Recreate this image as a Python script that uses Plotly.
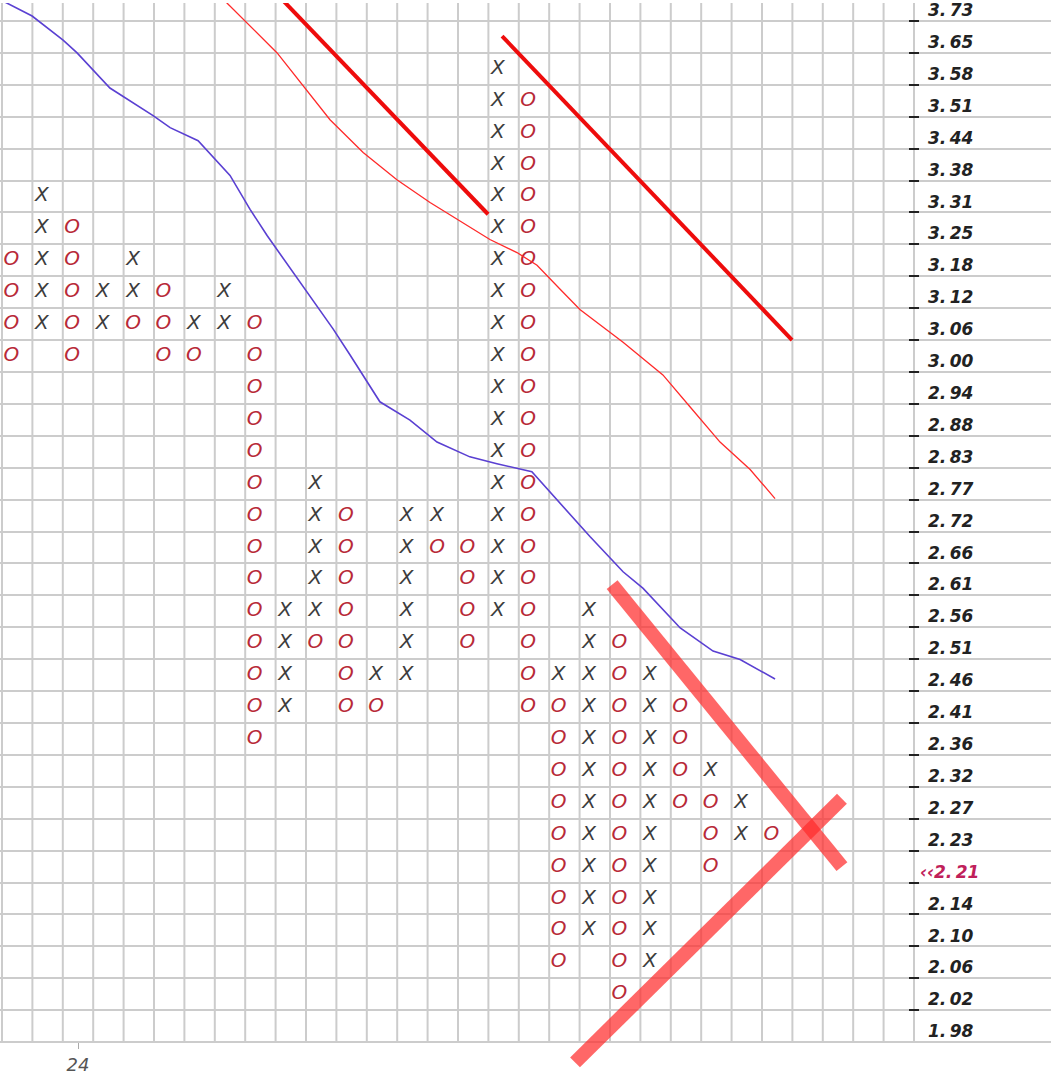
import numpy as np
import plotly.graph_objects as go

# ---------------- data ----------------
PRICE_LABELS = ["3.73", "3.65", "3.58", "3.51", "3.44", "3.38", "3.31", "3.25", "3.18",
                "3.12", "3.06", "3.00", "2.94", "2.88", "2.83", "2.77", "2.72", "2.66",
                "2.61", "2.56", "2.51", "2.46", "2.41", "2.36", "2.32", "2.27", "2.23",
                "2.19", "2.14", "2.10", "2.06", "2.02", "1.98"]
LAST_PRICE = "2.21"          # current price marker, shown on the 2.19 row
LAST_PRICE_ROW = "2.19"
DATE_TICK_COL = [2]
DATE_TICK_TEXT = ["24"]

# point & figure columns: list of (type, top level, bottom level) per column
PNF_COLUMNS = [
    [("O", "3.18", "3.00")],
    [("X", "3.31", "3.06")],
    [("O", "3.25", "3.00")],
    [("X", "3.12", "3.06")],
    [("X", "3.18", "3.12"), ("O", "3.06", "3.06")],
    [("O", "3.12", "3.00")],
    [("X", "3.06", "3.06"), ("O", "3.00", "3.00")],
    [("X", "3.12", "3.06")],
    [("O", "3.06", "2.36")],
    [("X", "2.56", "2.41")],
    [("X", "2.77", "2.56"), ("O", "2.51", "2.51")],
    [("O", "2.72", "2.41")],
    [("X", "2.46", "2.46"), ("O", "2.41", "2.41")],
    [("X", "2.72", "2.46")],
    [("X", "2.72", "2.72"), ("O", "2.66", "2.66")],
    [("O", "2.66", "2.51")],
    [("X", "3.58", "2.56")],
    [("O", "3.51", "2.41")],
    [("X", "2.46", "2.46"), ("O", "2.41", "2.06")],
    [("X", "2.56", "2.10")],
    [("O", "2.51", "2.02")],
    [("X", "2.46", "2.06")],
    [("O", "2.41", "2.27")],
    [("X", "2.32", "2.32"), ("O", "2.27", "2.19")],
    [("X", "2.27", "2.23")],
    [("O", "2.23", "2.23")],
]

# moving averages (column position, price)
MA_BLUE_X = [-0.73, 0.49, 1.51, 1.97, 3.05, 4.47, 5.03, 5.95, 7.00, 7.66, 8.22, 9.30,
             10.39, 10.95, 11.93, 12.92, 13.81, 14.89, 15.78, 16.93, 17.86, 18.84,
             19.93, 20.59, 21.81, 22.89, 23.78, 24.93]
MA_BLUE_PRICE = [3.750, 3.706, 3.651, 3.622, 3.544, 3.484, 3.458, 3.430, 3.357, 3.287,
                 3.234, 3.142, 3.052, 3.003, 2.917, 2.884, 2.845, 2.819, 2.807, 2.793,
                 2.738, 2.683, 2.625, 2.598, 2.535, 2.499, 2.486, 2.456]
MA_RED_X = [6.51, 6.90, 8.55, 10.29, 11.38, 12.49, 13.58, 14.66, 15.55, 16.44, 17.10,
            17.86, 18.51, 19.93, 21.24, 22.13, 23.12, 24.11, 24.93]
MA_RED_PRICE = [3.771, 3.736, 3.622, 3.475, 3.405, 3.348, 3.301, 3.260, 3.226, 3.200,
                3.175, 3.128, 3.089, 3.027, 2.966, 2.908, 2.845, 2.797, 2.747]

# trend lines (column position, price)
TREND1_X = [8.31, 15.49]
TREND1_PRICE = [3.774, 3.277]
TREND2_X = [15.95, 25.49]
TREND2_PRICE = [3.660, 3.031]
WEDGE_DOWN_X = [19.57, 27.13]
WEDGE_DOWN_PRICE = [2.604, 2.186]
WEDGE_UP_X = [18.35, 27.13]
WEDGE_UP_PRICE = [1.936, 2.280]

BASE_PRICE = 1.98
BOX_RATIO = 1.02
N_GRID_COLS = 30

# ---------------- helpers ----------------
N = len(PRICE_LABELS)


def row_of(label):
    return N - 1 - PRICE_LABELS.index(label)


def box_of(prices):
    return list(np.log(np.asarray(prices) / BASE_PRICE) / np.log(BOX_RATIO))


def label_fmt(s):
    a, b = s.split(".")
    return a + ".\u2009" + b


MARK_DX = -0.19
xs = {"X": [], "O": []}
ys = {"X": [], "O": []}
for c, segs in enumerate(PNF_COLUMNS):
    for kind, top, bot in segs:
        for r in range(row_of(bot), row_of(top) + 1):
            xs[kind].append(c + MARK_DX)
            ys[kind].append(r)

W, H = 1051, 1091
BOTTOM_PAD = 49
ROW_PX = 32.0
XR = [-0.5658, 34.007]
YR = [-0.5 - BOTTOM_PAD / ROW_PX, 32.0625]

fig = go.Figure()

mark_font = dict(family="DejaVu Sans", size=20, style="italic")
fig.add_trace(go.Scatter(x=xs["X"], y=ys["X"], mode="text", text=["X"] * len(xs["X"]),
                         textposition="middle center",
                         textfont=dict(mark_font, color="#3c3c3c"),
                         hoverinfo="skip", showlegend=False))
fig.add_trace(go.Scatter(x=xs["O"], y=ys["O"], mode="text", text=["O"] * len(xs["O"]),
                         textposition="middle center",
                         textfont=dict(mark_font, color="#b82a38"),
                         hoverinfo="skip", showlegend=False))

fig.add_trace(go.Scatter(x=MA_BLUE_X, y=box_of(MA_BLUE_PRICE), mode="lines",
                         line=dict(color="#5a40d2", width=1.6), hoverinfo="skip",
                         showlegend=False))
fig.add_trace(go.Scatter(x=MA_RED_X, y=box_of(MA_RED_PRICE), mode="lines",
                         line=dict(color="#ff2a2a", width=1.3), hoverinfo="skip",
                         showlegend=False))
for tx, tp in [(TREND1_X, TREND1_PRICE), (TREND2_X, TREND2_PRICE)]:
    fig.add_trace(go.Scatter(x=tx, y=box_of(tp), mode="lines",
                             line=dict(color="#ee0c0c", width=4), hoverinfo="skip",
                             showlegend=False))
for tx, tp in [(WEDGE_DOWN_X, WEDGE_DOWN_PRICE), (WEDGE_UP_X, WEDGE_UP_PRICE)]:
    fig.add_trace(go.Scatter(x=tx, y=box_of(tp), mode="lines",
                             line=dict(color="rgba(255,45,45,0.72)", width=14),
                             hoverinfo="skip", showlegend=False))
# carriers for the price scale axes
fig.add_trace(go.Scatter(x=[None], y=[None], yaxis="y3", showlegend=False, hoverinfo="skip"))
fig.add_trace(go.Scatter(x=[None], y=[None], yaxis="y4", showlegend=False, hoverinfo="skip"))

label_rows = [row_of(l) for l in PRICE_LABELS if l != LAST_PRICE_ROW]
label_text = [label_fmt(l) for l in PRICE_LABELS if l != LAST_PRICE_ROW]
LABEL_DY = -0.16
GRID = "#cccccc"
label_font = dict(family="DejaVu Sans", size=17, color="#222222", style="italic",
                  weight="bold")

# vertical grid lines of the box grid (column boundaries), limited to the price rows
grid_shapes = [dict(type="line", layer="below", xref="x", yref="y",
                    x0=j - 0.5, x1=j - 0.5, y0=-0.5, y1=YR[1],
                    line=dict(color=GRID, width=2))
               for j in range(N_GRID_COLS + 1)]

fig.update_layout(
    width=W, height=H,
    margin=dict(l=0, r=0, t=0, b=0),
    paper_bgcolor="white",
    plot_bgcolor="white",
    showlegend=False,
    xaxis=dict(domain=[0, 1], range=XR, anchor="free", position=BOTTOM_PAD / H,
               tickmode="array", tickvals=DATE_TICK_COL, ticktext=DATE_TICK_TEXT,
               ticks="outside", ticklen=6, tickwidth=1, tickcolor="#aaaaaa",
               tickfont=dict(family="DejaVu Sans", size=18, color="#555555", style="italic"),
               showgrid=False, zeroline=False, showline=False, fixedrange=True),
    yaxis=dict(domain=[0, 1], range=YR, anchor="x", tickmode="array",
               tickvals=[], showticklabels=False, showgrid=False, zeroline=False,
               showline=False, fixedrange=True,
               minor=dict(tickmode="array", tickvals=[i - 0.5 for i in range(N)],
                          showgrid=True, gridcolor=GRID, gridwidth=2, ticks="")),
    yaxis3=dict(overlaying="y", anchor="free", position=908 / W, side="right", range=YR,
                tickmode="array", tickvals=[i + 0.5 for i in range(N - 1)],
                ticks="outside", ticklen=10, tickwidth=2, tickcolor="#222222",
                showticklabels=False, showgrid=False, zeroline=False, showline=False,
                fixedrange=True),
    yaxis4=dict(overlaying="y", anchor="free", position=927 / W, side="right", range=YR,
                tickmode="array", tickvals=[r + LABEL_DY for r in label_rows],
                ticktext=label_text, ticks="", showgrid=False, zeroline=False,
                showline=False, fixedrange=True, ticklabeloverflow="allow",
                tickfont=label_font),
    shapes=grid_shapes,
    annotations=[dict(x=918 / W, xref="paper", xanchor="left",
                      y=row_of(LAST_PRICE_ROW) + LABEL_DY, yref="y", yanchor="middle",
                      text="\u2039\u2039" + label_fmt(LAST_PRICE), showarrow=False,
                      font=dict(label_font, color="#c0205a"))],
)

fig.write_html("out.html",
               config={"displayModeBar": False},
               post_script="document.body.style.margin='0';"
                           "document.body.style.overflow='hidden';")
